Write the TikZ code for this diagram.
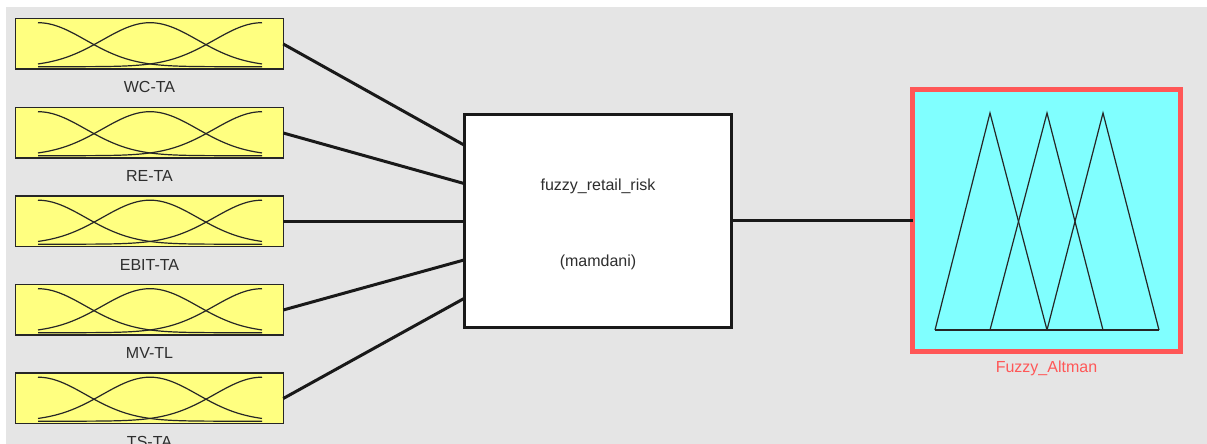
\documentclass[tikz,border=0pt]{standalone}
\usepackage{fontspec}
\setmainfont{Liberation Sans}
\definecolor{bggray}{HTML}{E5E5E5}
\definecolor{mfyellow}{HTML}{FFFF80}
\definecolor{mfcyan}{HTML}{80FFFF}
\definecolor{outred}{HTML}{FF5757}
\definecolor{txtgray}{HTML}{2E2E2E}
\begin{document}
\begin{tikzpicture}[x=1bp,y=-1bp,
  inbox/.style={draw=black!85,line width=1.5bp,fill=mfyellow,minimum width=267.5bp,minimum height=50.5bp,inner sep=0pt,outer sep=0pt},
  sysbox/.style={draw=black!90,line width=3bp,fill=white,minimum width=267bp,minimum height=213bp,inner sep=0pt,outer sep=0pt},
  outbox/.style={draw=outred,line width=5bp,fill=mfcyan,minimum width=268bp,minimum height=262bp,inner sep=0pt,outer sep=0pt},
  lbl/.style={text=txtgray,font=\fontsize{16bp}{19bp}\selectfont,inner sep=0pt},
  conn/.style={line width=3bp,black!90},
  mf/.style={line width=1.2bp,black!85}]
\useasboundingbox (0,0) rectangle (1207,444);
\fill[white] (0,0) rectangle (1207,444);
\fill[bggray] (6,7) rectangle (1207,444);
% input boxes
\foreach \i/\yy/\name in {1/44/WC-TA,2/133/RE-TA,3/221.5/EBIT-TA,4/310/MV-TL,5/398.5/TS-TA}{
  \node[inbox] (in\i) at (149.5,\yy) {};
  \node[lbl] (lab\i) at (149.5,\yy+43) {\name};
  \begin{scope}[shift={(0,\yy-26)}]
    \foreach \c in {38,150,262}{
      \draw[mf] plot[domain=38:262,samples=80,smooth] (\x,{48.7-44*exp(-0.5*((\x-\c)/47.6)^2)});
    }
  \end{scope}
}
% system box
\node[sysbox] (sys) at (598,221) {};
\node[lbl] (sysname) at (598,186) {fuzzy\_retail\_risk};
\node[lbl] (systype) at (598,262) {(mamdani)};
\coordinate (p1) at (464,145);
\coordinate (p2) at (464,183.5);
\coordinate (p3) at (464,221.5);
\coordinate (p4) at (464,260);
\coordinate (p5) at (464,298.5);
\foreach \i in {1,...,5}{
  \draw[conn] (in\i.east) -- (p\i);
}
% output box
\node[outbox] (out) at (1046.5,220.5) {};
\node[lbl,text=outred] (outlab) at (1046.5,368) {Fuzzy\_Altman};
\draw[conn] (sys.east |- 0,221) -- (out.west |- 0,221);
\draw[mf] (935,330) -- (1159,330);
\draw[mf] (935,330) -- (990,113) -- (1047,330);
\draw[mf] (990,330) -- (1047,113) -- (1103,330);
\draw[mf] (1047,330) -- (1103,113) -- (1159,330);
\end{tikzpicture}
\end{document}
